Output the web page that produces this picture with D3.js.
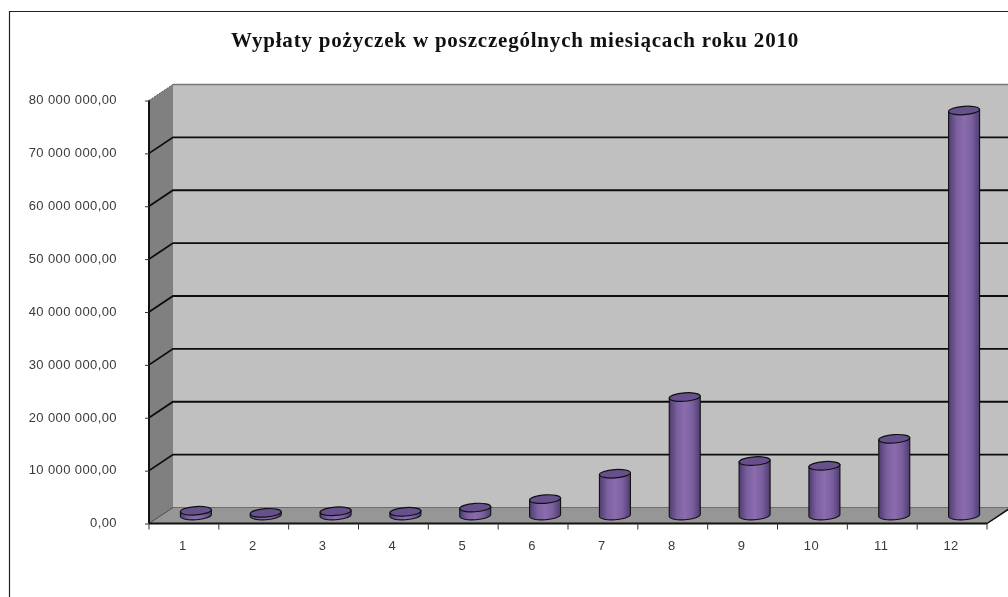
<!DOCTYPE html>
<html>
<head>
<meta charset="utf-8">
<script src="https://cdn.jsdelivr.net/npm/d3@7"></script>
<style>
html, body { margin: 0; padding: 0; background: #fff; overflow: hidden; }
svg { display: block; filter: blur(0.35px); }
.tick text { font-family: "Liberation Sans", Arial, sans-serif; font-size: 13px; letter-spacing: 0.4px; fill: #3a3a3a; }
</style>
</head>
<body>
<div id="chart"></div>
<script>
var months = ["1", "2", "3", "4", "5", "6", "7", "8", "9", "10", "11", "12"];
var payouts = [900000, 500000, 800000, 700000, 1500000, 3100000, 7900000, 22400000, 10300000, 9400000, 14500000, 76600000];
var yTicks = [0, 10000000, 20000000, 30000000, 40000000, 50000000, 60000000, 70000000, 80000000];
var title = "Wypłaty pożyczek w poszczególnych miesiącach roku 2010";

var width = 1008,
    height = 597,
    depthX = 24,
    depthY = 16;

var svg = d3.select("#chart").append("svg")
    .attr("width", width)
    .attr("height", height);

var x = d3.scaleBand().domain(months).range([149, 987]);
var y = d3.scaleLinear().domain([0, 80000000]).range([523.5, 100.5]);

// cylinder shading
var grad = svg.append("defs").append("linearGradient")
    .attr("id", "cyl")
    .attr("x1", "0").attr("x2", "1").attr("y1", "0").attr("y2", "0");
grad.append("stop").attr("offset", "0%").attr("stop-color", "#4f3c70");
grad.append("stop").attr("offset", "25%").attr("stop-color", "#7a5f9e");
grad.append("stop").attr("offset", "50%").attr("stop-color", "#8b6cae");
grad.append("stop").attr("offset", "75%").attr("stop-color", "#7a5f9e");
grad.append("stop").attr("offset", "100%").attr("stop-color", "#4f3c70");

// outer frame, cut off by the right and bottom of the picture
svg.append("path")
    .attr("d", "M9.5," + (height + 2) + "V11.5H" + (width + 2))
    .attr("fill", "none")
    .attr("stroke", "#222")
    .attr("stroke-width", 1.2);

svg.append("text")
    .attr("x", 515)
    .attr("y", 47)
    .attr("text-anchor", "middle")
    .style("font-family", "'Liberation Serif', 'Times New Roman', serif")
    .style("font-weight", "bold")
    .style("font-size", "21px")
    .style("letter-spacing", "0.8px")
    .style("fill", "#111")
    .text(title);

var x0 = x.range()[0], x1 = x.range()[1];

// back wall
svg.append("rect")
    .attr("x", x0 + depthX)
    .attr("y", y(80000000) - depthY)
    .attr("width", width - x0 - depthX + 2)
    .attr("height", y(0) - y(80000000))
    .attr("fill", "#c0c0c0");

// side wall
svg.append("path")
    .attr("d", d3.line()([
        [x0, y(0)], [x0, y(80000000)],
        [x0 + depthX, y(80000000) - depthY], [x0 + depthX, y(0) - depthY]
    ]) + "Z")
    .attr("fill", "#808080");

// floor
svg.append("path")
    .attr("d", d3.line()([
        [x0, y(0)], [x1, y(0)],
        [x1 + depthX, y(0) - depthY], [x0 + depthX, y(0) - depthY]
    ]) + "Z")
    .attr("fill", "#969696")
    .attr("stroke", "#6e6e6e")
    .attr("stroke-width", 1);

// top edge of the wall
svg.append("line")
    .attr("x1", x0 + depthX).attr("x2", width + 2)
    .attr("y1", y(80000000) - depthY).attr("y2", y(80000000) - depthY)
    .attr("stroke", "#777")
    .attr("stroke-width", 1.5);
svg.append("line")
    .attr("x1", x0).attr("x2", x0 + depthX)
    .attr("y1", y(80000000)).attr("y2", y(80000000) - depthY)
    .attr("stroke", "#555")
    .attr("stroke-width", 1)
    .attr("stroke-dasharray", "2,1");

// gridlines on both walls
var grid = svg.selectAll(".grid")
    .data(yTicks.slice(1, -1))
    .enter().append("path")
    .attr("class", "grid")
    .attr("d", function(d) {
        return d3.line()([[x0, y(d)], [x0 + depthX, y(d) - depthY], [width + 2, y(d) - depthY]]);
    })
    .attr("fill", "none")
    .attr("stroke", "#0c0c0c")
    .attr("stroke-width", 1.8);

svg.append("line")
    .attr("x1", x0).attr("x2", x0 + depthX)
    .attr("y1", y(0)).attr("y2", y(0) - depthY)
    .attr("stroke", "#555")
    .attr("stroke-width", 1);

// right edge of the floor
svg.append("line")
    .attr("x1", x1).attr("x2", x1 + depthX)
    .attr("y1", y(0)).attr("y2", y(0) - depthY)
    .attr("stroke", "#111")
    .attr("stroke-width", 1.5);

// axes
var yAxis = d3.axisLeft(y)
    .tickValues(yTicks)
    .tickSize(4)
    .tickPadding(28)
    .tickFormat(function(d) {
        return d3.format(",.2f")(d).replace(/,/g, " ").replace(".", ",");
    });
var xAxis = d3.axisBottom(x)
    .tickSize(0)
    .tickPadding(17);

var gy = svg.append("g")
    .attr("transform", "translate(" + x0 + ",0)")
    .call(yAxis);
gy.select(".domain").attr("stroke", "#111").attr("stroke-width", 2).attr("d", "M0," + y(80000000) + "V" + y(0));
gy.selectAll(".tick line").attr("stroke", "#333");
gy.selectAll(".tick text").attr("dy", "0.25em");

var gx = svg.append("g")
    .attr("transform", "translate(0," + y(0) + ")")
    .call(xAxis);
gx.select(".domain").attr("stroke", "#111").attr("stroke-width", 2).attr("d", "M" + x0 + ",0H" + x1);
gx.selectAll(".tick text").attr("dx", "-1");

// x ticks sit on the band edges, not the centres
svg.selectAll(".xtick")
    .data(months.concat(["end"]))
    .enter().append("line")
    .attr("class", "xtick")
    .attr("x1", function(d, i) { return x0 + i * x.bandwidth(); })
    .attr("x2", function(d, i) { return x0 + i * x.bandwidth(); })
    .attr("y1", y(0))
    .attr("y2", y(0) + 6)
    .attr("stroke", "#333");

// cylinders
var rx = 15.5,
    ry = 4.2,
    tilt = -4;

var bar = svg.selectAll(".bar")
    .data(payouts)
    .enter().append("g")
    .attr("class", "bar")
    .attr("transform", function(d, i) {
        return "translate(" + (x(months[i]) + x.bandwidth() / 2 + depthX / 2) + "," + (-depthY / 2) + ")";
    });

bar.append("path")
    .attr("d", function(d) {
        var dy = Math.tan(tilt * Math.PI / 180) * rx;
        return "M" + (-rx) + "," + (y(d) - dy) +
            "L" + (-rx) + "," + (y(0) - dy) +
            "A" + rx + "," + ry + " " + tilt + " 0 0 " + rx + "," + (y(0) + dy) +
            "L" + rx + "," + (y(d) + dy) + "Z";
    })
    .attr("fill", "url(#cyl)")
    .attr("stroke", "#111")
    .attr("stroke-width", 1.1);

bar.append("ellipse")
    .attr("cx", 0)
    .attr("cy", function(d) { return y(d); })
    .attr("rx", rx)
    .attr("ry", ry)
    .attr("transform", function(d) { return "rotate(" + tilt + " 0 " + y(d) + ")"; })
    .attr("fill", "#66518c")
    .attr("stroke", "#111")
    .attr("stroke-width", 1.2);
</script>
</body>
</html>
